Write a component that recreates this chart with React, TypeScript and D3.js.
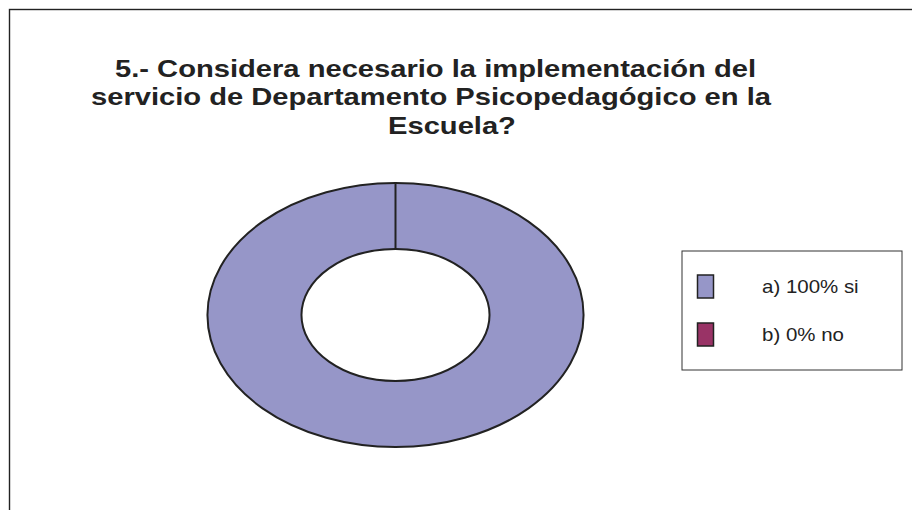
import { arc, pie, scaleOrdinal } from 'd3';

const categories = ['a) 100% si', 'b) 0% no'];
const values = [100, 0];
const colors = ['#9696C8', '#993366'];
const titleLines = [
  '5.- Considera necesario la implementación del',
  'servicio de Departamento Psicopedagógico en la',
  'Escuela?',
];

const W = 912;
const H = 510;
// the original picture is stretched horizontally
const STRETCH = 1.19;

const App = () => {
  // donut geometry (ellipse, squashed vertically)
  const cx = 395.5;
  const cy = 315;
  const rOuter = 188;
  const rInner = 94;
  const squash = 132 / 188;

  const color = scaleOrdinal<string, string>().domain(categories).range(colors);
  const slices = pie<number>().sort(null)(values);
  const arcGen = arc<any>().innerRadius(rInner).outerRadius(rOuter);

  const titleX = [115, 91, 388];
  const titleY = [77, 105, 134];

  return (
    <svg
      width={W}
      height={H}
      style={{ position: 'absolute', left: 0, top: 0, fontFamily: '"Liberation Sans", Arial, sans-serif' }}
    >
      <rect width={W} height={H} fill="#fff" />
      {/* outer frame */}
      <rect x={9.5} y={9.5} width={1000} height={1000} fill="none" stroke="#222" strokeWidth={1.4} />

      {/* title */}
      {titleLines.map((t, i) => (
        <text
          key={t}
          transform={`translate(${titleX[i]},${titleY[i]}) scale(${STRETCH},1)`}
          fontSize={24.5}
          fontWeight="bold"
          fill="#222"
        >
          {t}
        </text>
      ))}

      {/* donut */}
      <g transform={`translate(${cx},${cy}) scale(1,${squash})`}>
        {slices.map((s, i) => (
          <path
            key={categories[i]}
            d={arcGen(s) || ''}
            fill={color(categories[i])}
            stroke="#222"
            strokeWidth={2}
            vectorEffect="non-scaling-stroke"
          />
        ))}
      </g>

      {/* legend */}
      <rect x={682} y={251} width={220} height={119} fill="#fff" stroke="#333" strokeWidth={1} />
      {categories.map((c, i) => (
        <g key={c} transform={`translate(0, ${i * 48})`}>
          <rect x={697.5} y={275} width={16} height={23} fill={color(c)} stroke="#222" strokeWidth={1.5} />
          <text transform={`translate(762,293) scale(1.17,1)`} fontSize={17.5} fill="#222">
            {c}
          </text>
        </g>
      ))}
    </svg>
  );
};

export default App;
